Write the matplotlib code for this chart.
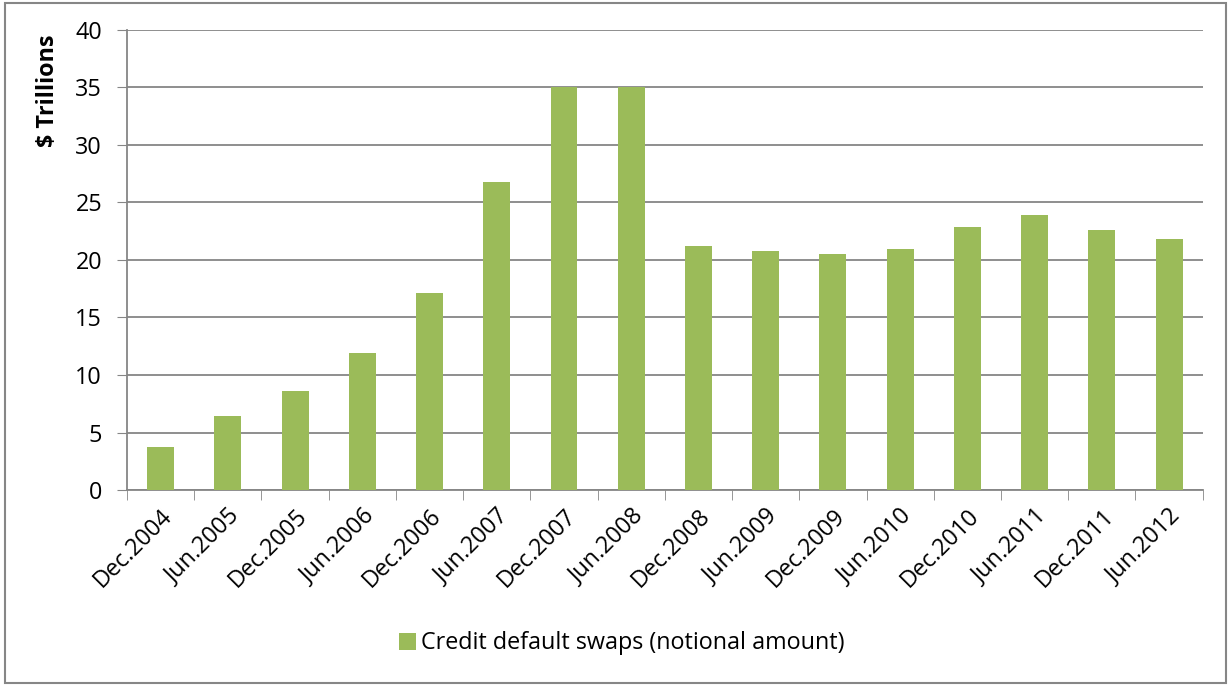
import matplotlib as mpl

mpl.use('Agg')
import matplotlib.pyplot as plt
from matplotlib.patches import Rectangle
import numpy as np

periods = ["Dec.2004", "Jun.2005", "Dec.2005", "Jun.2006", "Dec.2006",
           "Jun.2007", "Dec.2007", "Jun.2008", "Dec.2008", "Jun.2009",
           "Dec.2009", "Jun.2010", "Dec.2010", "Jun.2011", "Dec.2011",
           "Jun.2012"]
cds_notional = [3.7, 6.45, 8.6, 11.9, 17.1, 26.8, 35.0, 35.0, 21.2, 20.8,
                20.5, 20.95, 22.9, 23.95, 22.6, 21.8]
y_ticks = [0, 5, 10, 15, 20, 25, 30, 35, 40]

GREEN = "#9BBB59"
GRID = "#868686"
FS = 16.8

plt.rcParams['font.family'] = ['Open Sans', 'DejaVu Sans']

fig = plt.figure(figsize=(12.31, 6.86), dpi=100)
ax = fig.add_axes([0.1032, 0.2857, 0.8738, 0.6706])

x = np.arange(len(periods))
ax.bar(x, cds_notional, width=0.4, color=GREEN, zorder=3,
       label="Credit default swaps (notional amount)")

ax.set_xlim(-0.5, len(periods) - 0.5)
ax.set_ylim(0, 40)
ax.set_yticks(y_ticks)
ax.tick_params(axis='y', labelsize=FS, length=7, color=GRID, pad=11)
ax.yaxis.grid(True, color=GRID, linewidth=1.3, zorder=0)

# category labels centred on bars, tick marks between categories
ax.set_xticks(x)
ax.set_xticklabels(periods, rotation=45, ha='right', rotation_mode='anchor',
                   fontsize=FS)
ax.tick_params(axis='x', which='major', length=0, pad=10)
ax.set_xticks(np.arange(-0.5, len(periods)), minor=True)
ax.tick_params(axis='x', which='minor', length=7, color=GRID)

for side in ['top', 'right']:
    ax.spines[side].set_visible(False)
for side in ['left', 'bottom']:
    ax.spines[side].set_color(GRID)
    ax.spines[side].set_linewidth(1.3)

ax.set_ylabel("$ Trillions", fontsize=FS, fontweight='bold')
ax.yaxis.set_label_coords(-0.062, 0.867)

ax.legend(loc='center', bbox_to_anchor=(0.505, 0.062),
          bbox_transform=fig.transFigure, frameon=False, fontsize=FS,
          handlelength=0.75, handleheight=0.75, handletextpad=0.2)

# outer chart border
fig.patches.append(Rectangle((0.004, 0.004), 0.992, 0.992,
                             transform=fig.transFigure, fill=False,
                             edgecolor=GRID, linewidth=1.5))

plt.savefig("out.png", dpi=100)
